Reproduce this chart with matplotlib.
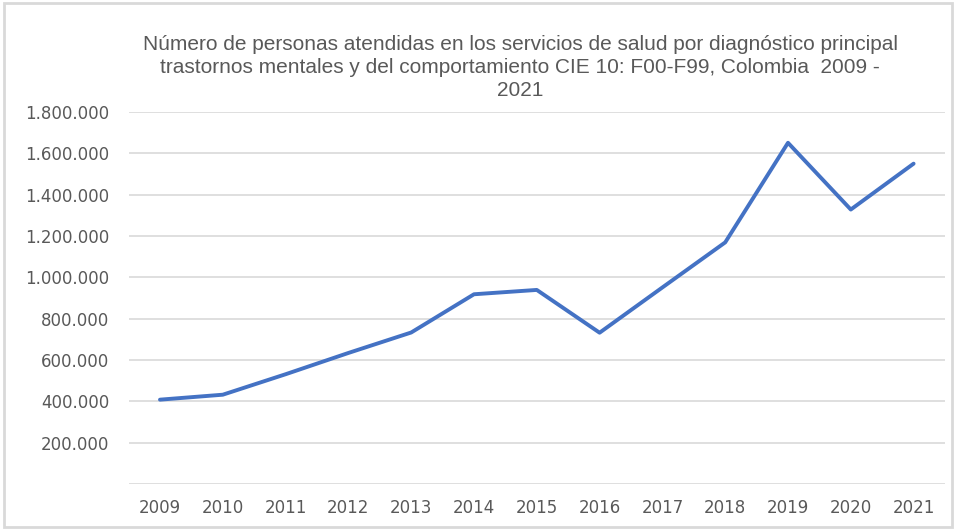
import matplotlib
matplotlib.use("Agg")
import matplotlib.pyplot as plt
from matplotlib.patches import Rectangle

# data
years = ["2009", "2010", "2011", "2012", "2013", "2014", "2015",
         "2016", "2017", "2018", "2019", "2020", "2021"]
personas = [408000, 432000, 531000, 634000, 733000, 918000, 939000,
            732000, 951000, 1169000, 1651000, 1328000, 1550000]
y_ticks = [0, 200000, 400000, 600000, 800000, 1000000, 1200000,
           1400000, 1600000, 1800000]
y_labels = ["", "200.000", "400.000", "600.000", "800.000", "1.000.000",
            "1.200.000", "1.400.000", "1.600.000", "1.800.000"]
title = ("Número de personas atendidas en los servicios de salud por diagnóstico principal\n"
         "trastornos mentales y del comportamiento CIE 10: F00-F99, Colombia  2009 -\n"
         "2021")

grey = "#595959"
grid = "#d9d9d9"

fig = plt.figure(figsize=(9.56, 5.29), dpi=100)
ax = fig.add_axes([0.1345, 0.0851, 0.854, 0.7032])

x = range(len(years))
ax.plot(x, personas, color="#4472C4", lw=2.8, solid_capstyle="round",
        solid_joinstyle="round", zorder=3)

ax.set_xlim(-0.5, len(years) - 0.5)
ax.set_ylim(0, 1800000)
ax.set_xticks(list(x))
ax.set_xticklabels(years)
ax.set_yticks(y_ticks)
ax.set_yticklabels(y_labels)
ax.tick_params(length=0, colors=grey, labelsize=12)
ax.tick_params(axis="x", pad=11)
ax.tick_params(axis="y", pad=14)
ax.grid(axis="y", color=grid, lw=1.2)
ax.set_axisbelow(True)
for s in ax.spines.values():
    s.set_visible(False)

fig.text(0.544, 0.933, title, ha="center", va="top", fontsize=15,
         family="Liberation Sans", color=grey, linespacing=1.26)

# light border round the chart area
fig.patches.append(Rectangle((0.004, 0.004), 0.992, 0.99, transform=fig.transFigure,
                             fill=False, edgecolor=grid, lw=2))

fig.savefig("out.png", dpi=100)
